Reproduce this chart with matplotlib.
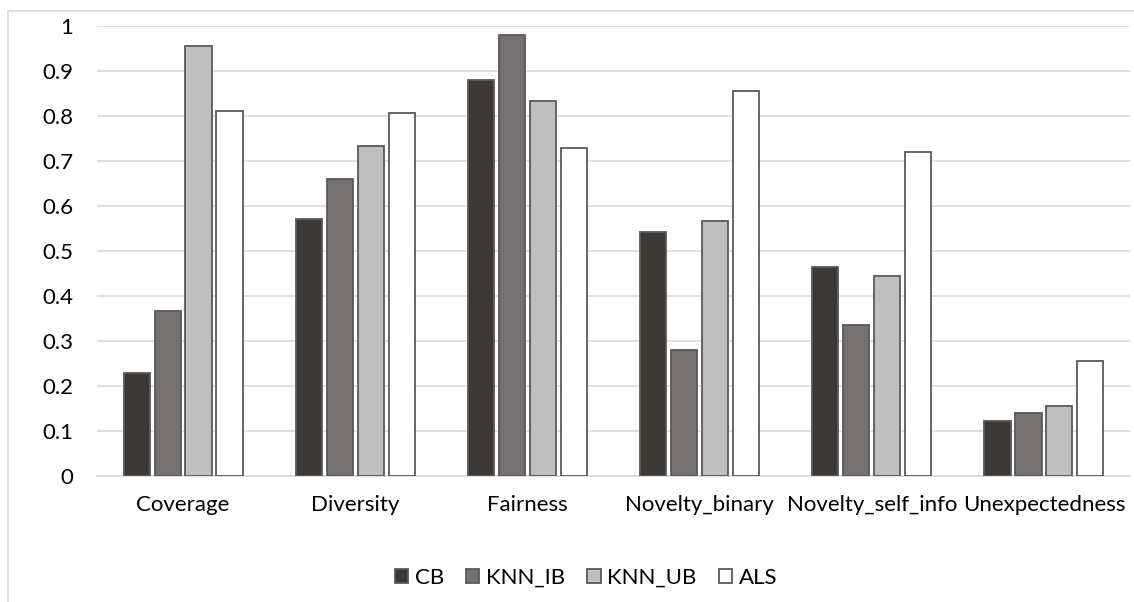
import matplotlib
matplotlib.use("Agg")
import matplotlib.pyplot as plt
import numpy as np
from matplotlib.patches import Rectangle, Patch

categories = ["Coverage", "Diversity", "Fairness", "Novelty_binary", "Novelty_self_info", "Unexpectedness"]
series_names = ["CB", "KNN_IB", "KNN_UB", "ALS"]
cb = [0.229, 0.571, 0.879, 0.541, 0.464, 0.121]
knn_ib = [0.366, 0.660, 0.979, 0.280, 0.335, 0.140]
knn_ub = [0.955, 0.733, 0.833, 0.565, 0.444, 0.155]
als = [0.810, 0.806, 0.728, 0.855, 0.719, 0.256]
yticks = [0, 0.1, 0.2, 0.3, 0.4, 0.5, 0.6, 0.7, 0.8, 0.9, 1]
yticklabels = ["0", "0.1", "0.2", "0.3", "0.4", "0.5", "0.6", "0.7", "0.8", "0.9", "1"]

colors = ["#3b3835", "#767171", "#bfbfbf", "#ffffff"]
edge = "#595959"
fs = 16

plt.rcParams['font.family'] = ['Lato', 'DejaVu Sans']

fig = plt.figure(figsize=(11.34, 6.02), dpi=100)
fig.patches.append(Rectangle((8/1134, -0.1), 1.2, 1 - 11/602 + 0.1, transform=fig.transFigure,
                             fill=False, edgecolor="#d9d9d9", linewidth=1.2))
ax = fig.add_axes([97/1134, 1 - 475.7/602, 1033/1134, 450/602])

x = np.arange(len(categories))
step = 0.18
width = 0.152
data = [cb, knn_ib, knn_ub, als]
for i, (name, vals) in enumerate(zip(series_names, data)):
    ax.bar(x + (i - 1.5) * step, vals, width, color=colors[i], edgecolor=edge,
           linewidth=1.3, label=name, zorder=3)

ax.set_xlim(-0.5, len(categories) - 0.5)
ax.set_ylim(0, 1)
ax.set_yticks(yticks)
ax.set_yticklabels(yticklabels, fontsize=fs, color="#000000")
ax.set_xticks(x)
ax.set_xticklabels(categories, fontsize=fs, color="#000000")
ax.tick_params(axis='both', length=0)
ax.tick_params(axis='y', pad=17)
ax.tick_params(axis='x', pad=14)
ax.grid(axis='y', color="#d9d9d9", linewidth=1.2, zorder=0)
for s in ["top", "right", "left"]:
    ax.spines[s].set_visible(False)
ax.spines["bottom"].set_color("#d9d9d9")
ax.spines["bottom"].set_linewidth(1.2)

handles = [Patch(facecolor=colors[i], edgecolor=edge, linewidth=1.3, label=series_names[i]) for i in range(4)]
fig.legend(handles=handles, loc="center", bbox_to_anchor=(586/1134, 1 - 578/602), ncol=4,
           frameon=False, fontsize=fs, handlelength=0.6, handleheight=0.6,
           handletextpad=0.3, columnspacing=1.0)

fig.savefig("out.png", dpi=100)
